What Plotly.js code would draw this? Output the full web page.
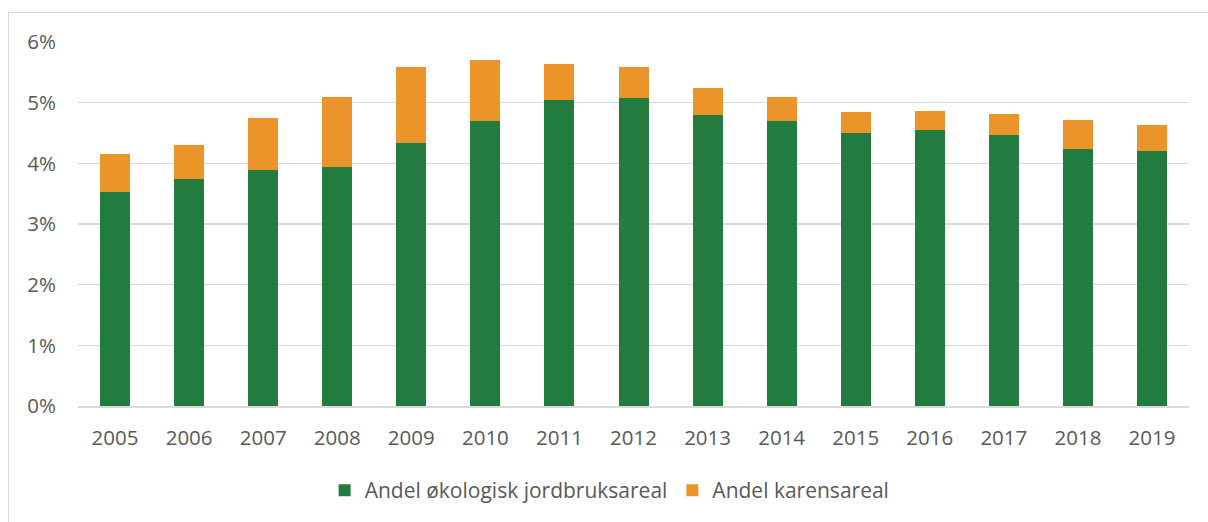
<!DOCTYPE html>
<html>
<head>
<meta charset="utf-8">
<script src="https://cdn.plot.ly/plotly-3.0.1.min.js"></script>
<style>
html,body{margin:0;padding:0;background:#fff;}
#wrap{position:relative;width:1208px;height:522px;overflow:hidden;}
#frame{position:absolute;left:8px;top:12px;width:1300px;height:600px;border-left:1px solid #d9d9d9;border-top:1px solid #d9d9d9;pointer-events:none;}
#chart{position:absolute;left:0;top:0;width:1208px;height:522px;}
</style>
</head>
<body>
<div id="wrap">
<div id="chart"></div>
<div id="frame"></div>
</div>
<script>
const years = ["2005","2006","2007","2008","2009","2010","2011","2012","2013","2014","2015","2016","2017","2018","2019"];
const okologisk = [3.52,3.75,3.89,3.94,4.34,4.69,5.05,5.07,4.80,4.69,4.50,4.55,4.46,4.24,4.21];
const karens = [0.63,0.55,0.86,1.16,1.25,1.01,0.59,0.52,0.45,0.41,0.35,0.32,0.35,0.48,0.42];
const seriesNames = ["Andel økologisk jordbruksareal","Andel karensareal"];
const yTickVals = [0,1,2,3,4,5,6];
const yTickText = ["0%","1%","2%","3%","4%","5%","6%"];

const traces = [
  {type:"bar", name:seriesNames[0], x:years, y:okologisk, marker:{color:"#227B3F", line:{width:0}}},
  {type:"bar", name:seriesNames[1], x:years, y:karens, marker:{color:"#EA9429", line:{width:0}}}
];

const layout = {
  width:1208, height:522,
  margin:{l:78, r:19, t:41.5, b:114.5},
  barmode:"stack",
  bargap:0.595,
  paper_bgcolor:"#fff",
  plot_bgcolor:"#fff",
  font:{family:"Open Sans, sans-serif", size:20, color:"#595959"},
  showlegend:true,
  legend:{orientation:"h", x:0.222, xanchor:"left", y:-0.229, yanchor:"middle",
          font:{size:21, color:"#595959"}, traceorder:"normal", itemwidth:30},
  xaxis:{type:"category", showgrid:false, zeroline:false, showline:true, linecolor:"#d9d9d9", linewidth:1.5,
         ticks:"", ticklabelstandoff:13, tickfont:{size:20.5, color:"#595959"}},
  yaxis:{range:[0,6], tickvals:yTickVals, ticktext:yTickText, showgrid:true, gridcolor:"#d9d9d9", gridwidth:1.5,
         zeroline:false, showline:false, ticks:"", ticklabelstandoff:21, tickfont:{size:20.5, color:"#595959"}}
};

Plotly.newPlot("chart", traces, layout, {displayModeBar:false, staticPlot:true});
</script>
</body>
</html>
